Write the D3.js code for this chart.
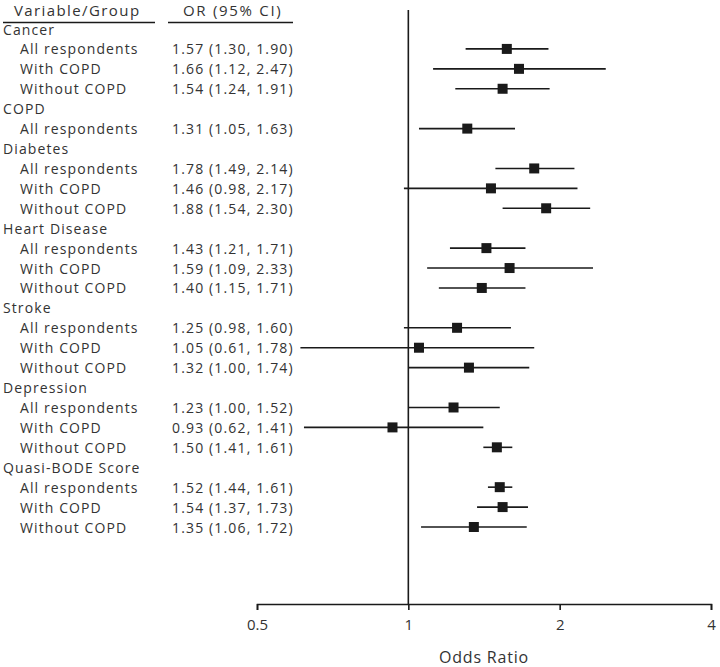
<!DOCTYPE html>
<html>
<head>
<meta charset="utf-8">
<script src="https://cdn.jsdelivr.net/npm/d3@7/dist/d3.min.js"></script>
<style>
  html, body { margin: 0; padding: 0; background: #fff; }
  svg { display: block; }
  text { font-family: "Open Sans", sans-serif; fill: #333; }
</style>
</head>
<body>
<script>
const groups = ["Cancer", "COPD", "Diabetes", "Heart Disease", "Stroke", "Depression", "Quasi-BODE Score"];
const subgroups = [
  ["All respondents", "With COPD", "Without COPD"],
  ["All respondents"],
  ["All respondents", "With COPD", "Without COPD"],
  ["All respondents", "With COPD", "Without COPD"],
  ["All respondents", "With COPD", "Without COPD"],
  ["All respondents", "With COPD", "Without COPD"],
  ["All respondents", "With COPD", "Without COPD"]
];
const orValues = [
  [1.57, 1.66, 1.54],
  [1.31],
  [1.78, 1.46, 1.88],
  [1.43, 1.59, 1.40],
  [1.25, 1.05, 1.32],
  [1.23, 0.93, 1.50],
  [1.52, 1.54, 1.35]
];
const ciLow = [
  [1.30, 1.12, 1.24],
  [1.05],
  [1.49, 0.98, 1.54],
  [1.21, 1.09, 1.15],
  [0.98, 0.61, 1.00],
  [1.00, 0.62, 1.41],
  [1.44, 1.37, 1.06]
];
const ciHigh = [
  [1.90, 2.47, 1.91],
  [1.63],
  [2.14, 2.17, 2.30],
  [1.71, 2.33, 1.71],
  [1.60, 1.78, 1.74],
  [1.52, 1.41, 1.61],
  [1.61, 1.73, 1.72]
];
const xTicks = [0.5, 1, 2, 4];
const xTickLabels = ["0.5", "1", "2", "4"];
const columnHeaders = ["Variable/Group", "OR (95% CI)"];
const xTitle = "Odds Ratio";

// build rows
const rows = [];
groups.forEach((g, gi) => {
  rows.push({ id: "g" + gi, label: g, header: true });
  subgroups[gi].forEach((s, si) => {
    rows.push({
      id: "g" + gi + "s" + si, label: s, header: false,
      or: orValues[gi][si], lo: ciLow[gi][si], hi: ciHigh[gi][si]
    });
  });
});

const W = 720, H = 667;
const svg = d3.select("body").append("svg").attr("width", W).attr("height", H);

const x = d3.scaleLog().base(2).domain([0.5, 4]).range([257, 711]);
const y = d3.scalePoint().domain(rows.map(r => r.id)).range([29, 527]);
const axisY = 604;
const ink = "#1a1a1a";

// column headers
svg.append("text").attr("x", 14).attr("y", 10)
  .attr("dominant-baseline", "central")
  .style("font-size", "15px").style("letter-spacing", "1.4px").text(columnHeaders[0]);
svg.append("text").attr("x", 183).attr("y", 10)
  .attr("dominant-baseline", "central")
  .style("font-size", "15px").style("letter-spacing", "1.7px").text(columnHeaders[1]);
svg.append("line").attr("x1", 3).attr("x2", 155).attr("y1", 22.5).attr("y2", 22.5)
  .attr("stroke", ink).attr("stroke-width", 1.5);
svg.append("line").attr("x1", 168).attr("x2", 293).attr("y1", 22.5).attr("y2", 22.5)
  .attr("stroke", ink).attr("stroke-width", 1.5);

// labels
svg.append("g").selectAll("text").data(rows).join("text")
  .attr("x", d => d.header ? 3 : 20)
  .attr("y", d => y(d.id))
  .attr("dominant-baseline", "central")
  .style("font-size", "14px")
  .style("letter-spacing", "1.1px")
  .text(d => d.label);

const dataRows = rows.filter(r => !r.header);
svg.append("g").selectAll("text").data(dataRows).join("text")
  .attr("x", 172)
  .attr("y", d => y(d.id))
  .attr("dominant-baseline", "central")
  .style("font-size", "14px")
  .style("letter-spacing", "1.15px")
  .text(d => `${d.or.toFixed(2)} (${d.lo.toFixed(2)}, ${d.hi.toFixed(2)})`);

// reference line at 1
svg.append("line").attr("x1", x(1)).attr("x2", x(1)).attr("y1", 10).attr("y2", axisY)
  .attr("stroke", ink).attr("stroke-width", 1.6);

// CI lines
svg.append("g").selectAll("line").data(dataRows).join("line")
  .attr("x1", d => x(d.lo)).attr("x2", d => x(d.hi))
  .attr("y1", d => y(d.id)).attr("y2", d => y(d.id))
  .attr("stroke", ink).attr("stroke-width", 1.6);

// markers
const ms = 10;
svg.append("g").selectAll("rect").data(dataRows).join("rect")
  .attr("x", d => x(d.or) - ms / 2).attr("y", d => y(d.id) - ms / 2)
  .attr("width", ms).attr("height", ms).attr("fill", ink);

// axis
const axis = d3.axisBottom(x).tickValues(xTicks)
  .tickFormat((d, i) => xTickLabels[i]).tickSize(6).tickSizeOuter(6).tickPadding(9);
const ag = svg.append("g").attr("transform", `translate(0,${axisY})`).call(axis);
ag.select(".domain").attr("stroke", ink).attr("stroke-width", 1.6);
ag.selectAll(".tick line").attr("stroke", ink).attr("stroke-width", 1.6);
ag.selectAll(".tick text").style("font-size", "15px").style("font-family", "'Open Sans', sans-serif").attr("fill", "#333");

svg.append("text").attr("x", (x(0.5) + x(4)) / 2).attr("y", 657)
  .attr("text-anchor", "middle").attr("dominant-baseline", "central")
  .style("font-size", "16px").style("letter-spacing", "0.8px").text(xTitle);
</script>
</body>
</html>
